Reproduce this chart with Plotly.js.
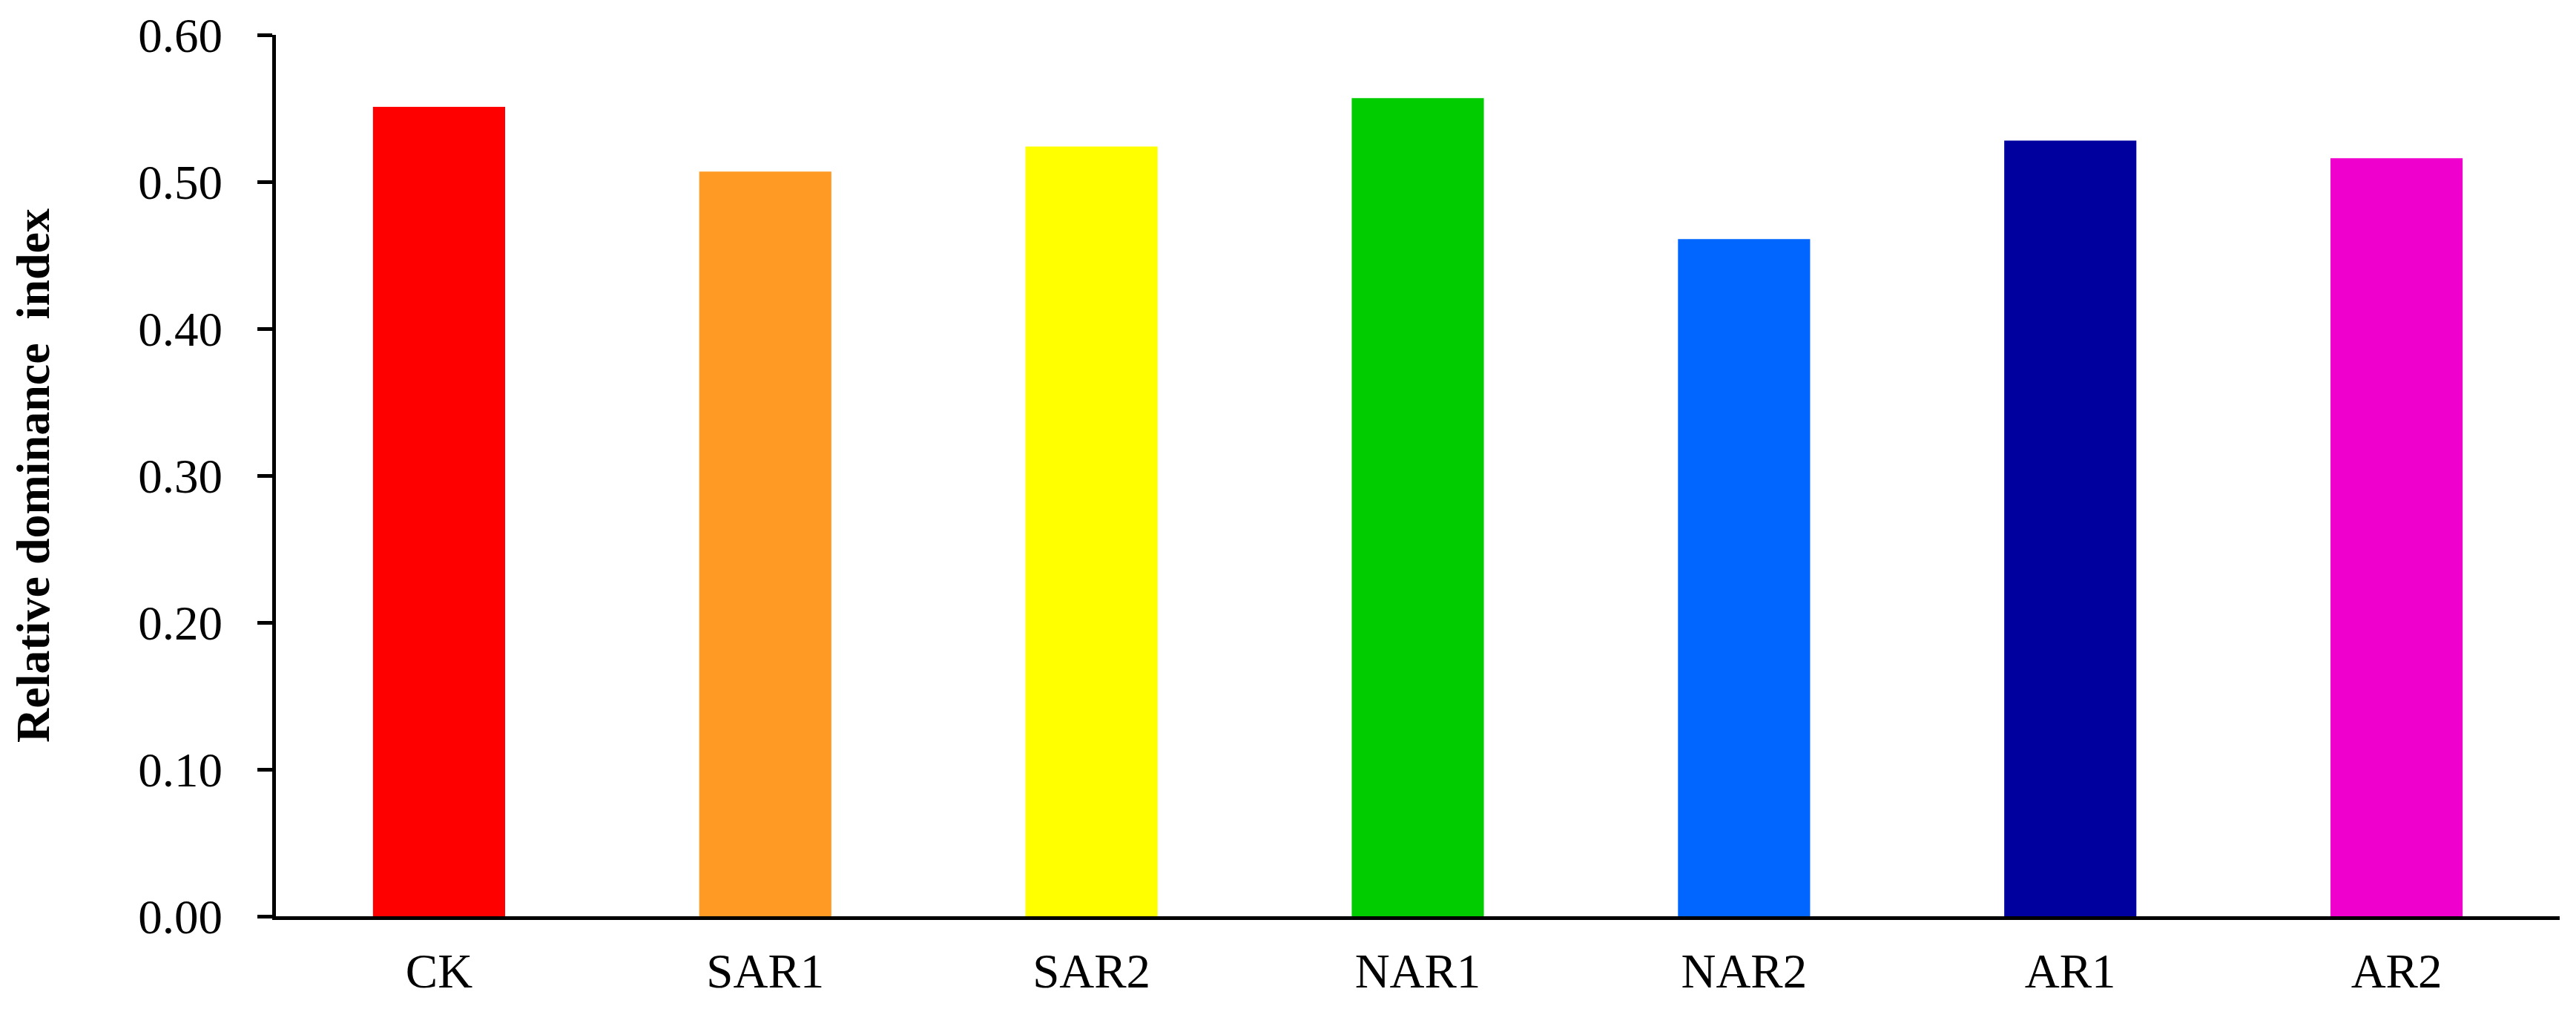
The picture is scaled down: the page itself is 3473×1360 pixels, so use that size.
<!DOCTYPE html>
<html>
<head>
<meta charset="utf-8">
<script src="https://cdn.plot.ly/plotly-3.0.1.min.js"></script>
<style>
  html, body { margin: 0; padding: 0; background: #ffffff; }
  #chart { width: 3473px; height: 1360px; }
</style>
</head>
<body>
<div id="chart"></div>
<script>
const categories = ["CK", "SAR1", "SAR2", "NAR1", "NAR2", "AR1", "AR2"];
const values = [0.551, 0.507, 0.524, 0.557, 0.461, 0.528, 0.516];
const barColors = ["#FF0000", "#FF9B25", "#FFFF00", "#00CC00", "#0066FF", "#00009F", "#F000CC"];
const yTickValues = [0, 0.1, 0.2, 0.3, 0.4, 0.5, 0.6];
const yTitle = "Relative dominance  index";

const fontFamily = '"Liberation Serif", "Times New Roman", Times, serif';

const trace = {
  type: "bar",
  x: categories,
  y: values,
  marker: { color: barColors, line: { width: 0 } },
  hoverinfo: "x+y"
};

const layout = {
  width: 3473,
  height: 1360,
  margin: { l: 372, r: 22, t: 47, b: 125, pad: 0 },
  paper_bgcolor: "#ffffff",
  plot_bgcolor: "#ffffff",
  showlegend: false,
  bargap: 0.595,
  font: { family: fontFamily, color: "#000000", size: 65 },
  xaxis: {
    type: "category",
    range: [-0.5, 6.5],
    showline: true,
    linecolor: "#000000",
    linewidth: 5,
    ticks: "",
    showgrid: false,
    zeroline: false,
    tickfont: { family: fontFamily, size: 65, color: "#000000" },
    ticklabelstandoff: 13,
    fixedrange: true
  },
  yaxis: {
    range: [0, 0.6],
    tickvals: yTickValues,
    tickformat: ".2f",
    showline: true,
    linecolor: "#000000",
    linewidth: 5,
    ticks: "outside",
    ticklen: 20,
    tickwidth: 5,
    tickcolor: "#000000",
    showgrid: false,
    zeroline: false,
    tickfont: { family: fontFamily, size: 65, color: "#000000" },
    ticklabelstandoff: 34,
    title: {
      text: yTitle,
      font: { family: fontFamily, size: 64, color: "#000000", weight: "bold" },
      standoff: 100
    },
    fixedrange: true
  }
};

Plotly.newPlot("chart", [trace], layout, { displayModeBar: false, staticPlot: true });
</script>
</body>
</html>
